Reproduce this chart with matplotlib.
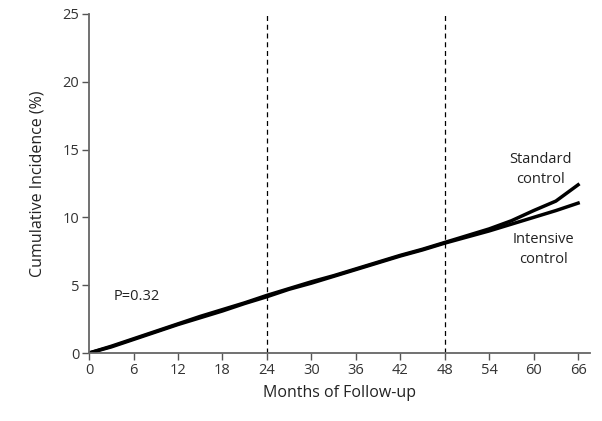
import matplotlib
matplotlib.use("Agg")
import matplotlib.pyplot as plt

# cumulative incidence read every 3 months
months = [0, 3, 6, 9, 12, 15, 18, 21, 24, 27, 30, 33, 36, 39, 42, 45, 48, 51, 54, 57, 60, 63, 66]
standard = [0, 0.5, 1.05, 1.6, 2.15, 2.7, 3.2, 3.7, 4.25, 4.75, 5.25, 5.7, 6.2,
            6.7, 7.2, 7.65, 8.15, 8.65, 9.15, 9.75, 10.5, 11.2, 12.4]
intensive = [0, 0.45, 1.0, 1.55, 2.1, 2.6, 3.1, 3.65, 4.15, 4.7, 5.15, 5.65, 6.15,
             6.65, 7.15, 7.6, 8.1, 8.55, 9.0, 9.5, 10.0, 10.5, 11.05]
x_ticks = list(range(0, 67, 6))
y_ticks = [0, 5, 10, 15, 20, 25]
landmarks = [24, 48]

plt.rcParams['font.family'] = ['Open Sans', 'DejaVu Sans']

fig = plt.figure(figsize=(6.02, 4.21), dpi=100)
ax = fig.add_axes([0.148, 0.1615, 0.832, 0.8055])

ax.plot(months, standard, color='black', lw=2.5)
ax.plot(months, intensive, color='black', lw=2.5)

for m in landmarks:
    ax.axvline(m, color='black', lw=0.9, ls=(0, (4, 3)))

ax.set_xlim(0, 67.6)
ax.set_ylim(0, 25)
ax.set_xticks(x_ticks)
ax.set_yticks(y_ticks)
ax.tick_params(direction='out', length=5, width=1, colors='#555555',
               labelcolor='#333333', labelsize=10.5, pad=2)

for side in ['top', 'right']:
    ax.spines[side].set_visible(False)
for side in ['left', 'bottom']:
    ax.spines[side].set_color('#666666')
    ax.spines[side].set_linewidth(1.3)

ax.set_xlabel('Months of Follow-up', fontsize=11.5, color='#222222', labelpad=5)
ax.set_ylabel('Cumulative Incidence (%)', fontsize=11.5, color='#222222', labelpad=12)

ax.text(3.3, 4.2, 'P=0.32', fontsize=10.5, color='#222222', va='center')
ax.text(60.9, 13.5, 'Standard\ncontrol', fontsize=10.5, color='#222222',
        ha='center', va='center', linespacing=1.45)
ax.text(61.3, 7.6, 'Intensive\ncontrol', fontsize=10.5, color='#222222',
        ha='center', va='center', linespacing=1.45)

fig.savefig('out.png', dpi=100)
